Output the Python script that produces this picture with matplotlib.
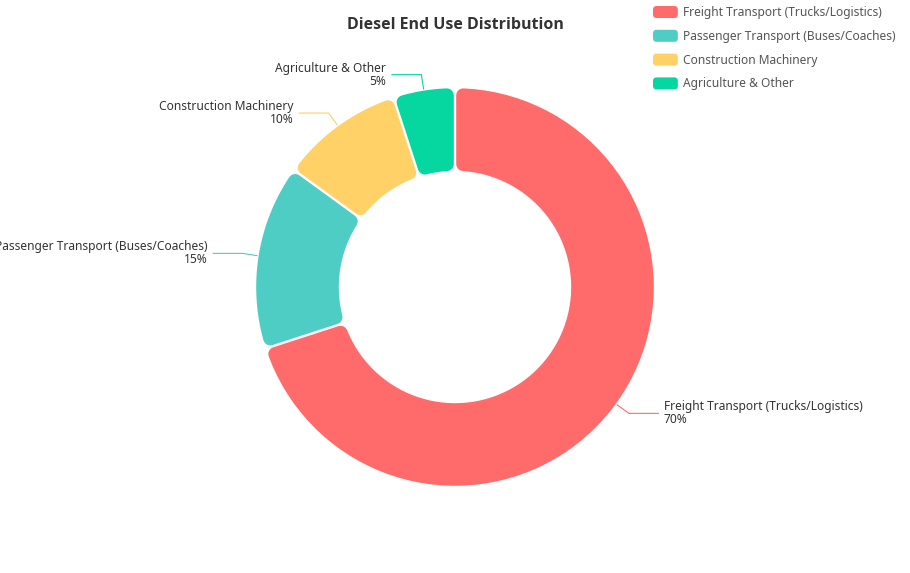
import matplotlib.pyplot as plt
from matplotlib.patches import Polygon, FancyBboxPatch, Patch
from matplotlib.legend_handler import HandlerPatch
import numpy as np

plt.rcParams['font.family'] = ['Noto Sans', 'DejaVu Sans']

# data
categories = ["Freight Transport (Trucks/Logistics)",
              "Passenger Transport (Buses/Coaches)",
              "Construction Machinery",
              "Agriculture & Other"]
shares = [70, 15, 10, 5]
colors = ['#FF6B6B', '#4ECDC4', '#FFD166', '#06D6A0']
title = "Diesel End Use Distribution"

# layout in pixels
W, H = 910, 573
CX, CY = 455, 287
R_OUT, R_IN = 200, 115
CORNER = 7      # rounded corner radius
GAP = 1.2       # half of the white gap between slices
LEN1, LEN2 = 15, 30


class HandlerRound(HandlerPatch):
    def create_artists(self, legend, orig_handle, xdescent, ydescent,
                       width, height, fontsize, trans):
        p = FancyBboxPatch((-xdescent, -ydescent), width, height,
                           boxstyle="round,pad=0,rounding_size=%.1f" % (height * 0.3),
                           facecolor=orig_handle.get_facecolor(),
                           edgecolor='none', transform=trans)
        return [p]


def rounded_slice(ax, t1, t2, color):
    # shrink the annulus sector, then stroke with a round join
    d = (CORNER + GAP) / R_OUT
    ro = 1 - d
    ri = R_IN / R_OUT + d
    a1, a2 = np.radians(t1), np.radians(t2)
    do, di = np.arcsin(d / ro), np.arcsin(d / ri)
    outer = np.linspace(a1 + do, a2 - do, 80)
    inner = np.linspace(a2 - di, a1 + di, 80)
    xs = np.concatenate([ro * np.cos(outer), ri * np.cos(inner)])
    ys = np.concatenate([ro * np.sin(outer), ri * np.sin(inner)])
    poly = Polygon(np.column_stack([xs, ys]), closed=True,
                   facecolor=color, edgecolor=color,
                   linewidth=2 * CORNER * 72 / 100, joinstyle='round')
    ax.add_patch(poly)


fig = plt.figure(figsize=(W / 100, H / 100), dpi=100)
ax = fig.add_axes([0, 0, 1, 1])
wedges, _ = ax.pie(shares, startangle=90, counterclock=False, radius=1,
                   colors=colors, wedgeprops=dict(width=1 - R_IN / R_OUT))
ax.set_xlim(-CX / R_OUT, (W - CX) / R_OUT)
ax.set_ylim(-(H - CY) / R_OUT, CY / R_OUT)
ax.set_aspect('auto')
ax.axis('off')

total = sum(shares)
for w, name, val, col in zip(wedges, categories, shares, colors):
    w.set_visible(False)
    rounded_slice(ax, w.theta1, w.theta2, col)
    mid = np.radians((w.theta1 + w.theta2) / 2)
    dx, dy = np.cos(mid), np.sin(mid)
    sign = 1 if dx >= 0 else -1
    r1 = 1 + LEN1 / R_OUT
    x1, y1 = r1 * dx, r1 * dy
    x2 = x1 + sign * LEN2 / R_OUT
    ax.plot([dx, x1, x2], [dy, y1, y1], color=col, lw=0.8,
            solid_capstyle='butt')
    ha = 'left' if sign > 0 else 'right'
    ax.text(x2 + sign * 5 / R_OUT, y1, "%s\n%d%%" % (name, round(val / total * 100)),
            ha=ha, va='center', multialignment=ha, fontsize=8.6,
            color='#333333', linespacing=1.0)

fig.text(CX / W, 1 - 25 / H, title, ha='center', va='center',
         fontsize=11.5, fontweight='bold', color='#333333',
         family=['Open Sans', 'DejaVu Sans'])

handles = [Patch(facecolor=c) for c in colors]
fig.legend(handles, categories, loc='upper left',
           bbox_to_anchor=(653 / W, 1 - 6 / H), frameon=False,
           fontsize=8.6, labelcolor='#555555', handlelength=2.08,
           handleheight=1.17, handletextpad=0.45, labelspacing=0.9,
           borderpad=0, borderaxespad=0,
           handler_map={Patch: HandlerRound()})

fig.savefig('out.png', dpi=100)
